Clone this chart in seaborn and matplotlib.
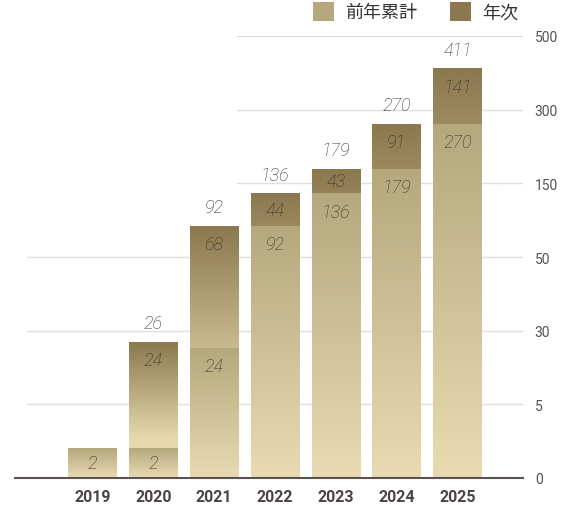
import numpy as np
import pandas as pd
import matplotlib
matplotlib.use("Agg")
import matplotlib.pyplot as plt
import seaborn as sns
from matplotlib.patches import Patch
from matplotlib.colors import to_rgb

# ---------------- data ----------------
years = ["2019", "2020", "2021", "2022", "2023", "2024", "2025"]
prev_cum = [2, 2, 24, 92, 136, 179, 270]      # 前年累計
annual = [0, 24, 68, 44, 43, 91, 141]         # 年次
totals = [0, 26, 92, 136, 179, 270, 411]      # 合計 (0 = no label)
y_ticks = [0, 5, 30, 50, 150, 300, 500]
series_labels = ["前年累計", "年次"]

# ---------------- style ----------------
C_LOWER_TOP, C_LOWER_BOT = "#b6a87d", "#e9dab2"
C_UPPER_TOP, C_UPPER_BOT = "#8b784e", "#e6d7ad"

sns.set_theme(style="white")
plt.rcParams["font.family"] = ["Noto Sans CJK JP", "DejaVu Sans"]

tick_pos = np.arange(len(y_ticks), dtype=float)


def fwd(v):
    return np.interp(v, y_ticks, tick_pos)


def inv(u):
    return np.interp(u, tick_pos, y_ticks)


fig = plt.figure(figsize=(5.65, 5.10), dpi=100)
ax = fig.add_axes([15 / 565, 1 - 479 / 510, 508 / 565, 442 / 510])
ax.set_yscale("function", functions=(fwd, inv))

df = pd.DataFrame({"year": years, "prev": prev_cum, "annual": annual})
df["stack"] = df["prev"] + df["annual"]

sns.barplot(data=df, x="year", y="stack", color=C_UPPER_TOP, saturation=1,
            width=0.8, errorbar=None, ax=ax, zorder=2, linewidth=0)
sns.barplot(data=df, x="year", y="prev", color=C_LOWER_TOP, saturation=1,
            width=0.8, errorbar=None, ax=ax, zorder=2, linewidth=0)

ax.set_xlim(-1.275, 6 + 1.077)
ax.set_ylim(0, 500)


def grad_img(c_top, c_bot, ramp=1.0, n=256):
    t = np.linspace(0, 1, n)
    f = np.clip(t / ramp, 0, 1)[:, None]
    a = np.array(to_rgb(c_top))
    b = np.array(to_rgb(c_bot))
    return (a + f * (b - a))[:, None, :]


to_axes = ax.transData + ax.transAxes.inverted()
n = len(years)
upper_bars = ax.patches[:n]
lower_bars = ax.patches[n:2 * n]
for bars, ct, cb, ramp, z in ((upper_bars, C_UPPER_TOP, C_UPPER_BOT, 0.7, 2.1),
                              (lower_bars, C_LOWER_TOP, C_LOWER_BOT, 1.0, 2.3)):
    for p in bars:
        x0, x1 = p.get_x(), p.get_x() + p.get_width()
        y0, y1 = p.get_y(), p.get_y() + p.get_height()
        if y1 <= y0:
            continue
        (ax0, ay0), (ax1, ay1) = to_axes.transform([(x0, y0), (x1, y1)])
        ax.imshow(grad_img(ct, cb, ramp), extent=[ax0, ax1, ay0, ay1],
                  transform=ax.transAxes, aspect="auto",
                  interpolation="bilinear", zorder=z)

# gridlines
for v in y_ticks[1:]:
    xmin = 0.437 if v >= 150 else 0.024
    ax.axhline(v, xmin=xmin, xmax=1, color="#e3dfdb", lw=1.0, zorder=1)

# value labels
num_font = dict(family=["Roboto", "DejaVu Sans"], style="italic", weight="light",
                fontsize=13)
for i in range(n):
    segs = [(0, prev_cum[i], prev_cum[i]),
            (prev_cum[i], prev_cum[i] + annual[i], annual[i])]
    for lo, hi, val in segs:
        if val <= 0:
            continue
        ylo = ax.transData.transform((i, lo))[1]
        yhi = ax.transData.transform((i, hi))[1]
        off = min(18, (yhi - ylo) / 2)
        ax.annotate(str(val), xy=(i, hi), xytext=(0, -off),
                    textcoords="offset pixels", ha="center", va="center",
                    color="#3b3227", zorder=5, **num_font)
    if totals[i]:
        ax.annotate(str(totals[i]), xy=(i, totals[i]), xytext=(0, 19),
                    textcoords="offset pixels", ha="center", va="center",
                    color="#2f2d2b", zorder=5, **num_font)

# axes cosmetics
for s in ["top", "left", "right"]:
    ax.spines[s].set_visible(False)
ax.spines["bottom"].set_color("#5b5352")
ax.spines["bottom"].set_linewidth(1.5)
ax.spines["bottom"].set_zorder(6)

ax.set_xlabel("")
ax.set_ylabel("")
ax.yaxis.tick_right()
ax.set_yticks(y_ticks)
ax.set_yticklabels([str(v) for v in y_ticks])
ax.tick_params(axis="y", length=0, pad=8.5, labelsize=10, labelcolor="#555050")
ax.tick_params(axis="x", length=0, pad=8, labelsize=11.5, labelcolor="#4a4444")
for lbl in ax.get_yticklabels():
    lbl.set_fontfamily("Roboto")
for lbl in ax.get_xticklabels():
    lbl.set_fontfamily("Roboto")
    lbl.set_fontweight("bold")

handles = [Patch(facecolor=C_LOWER_TOP, edgecolor="none"),
           Patch(facecolor=C_UPPER_TOP, edgecolor="none")]
leg = fig.legend(handles, series_labels, loc="upper right",
                 bbox_to_anchor=(518 / 565, 1 - 3 / 510), ncol=2, frameon=False,
                 fontsize=13, handlelength=1.2, handleheight=1.2,
                 handletextpad=0.6, columnspacing=1.8, borderpad=0,
                 borderaxespad=0)
for t in leg.get_texts():
    t.set_color("#333333")

fig.savefig("out.png", dpi=100, facecolor="white")
